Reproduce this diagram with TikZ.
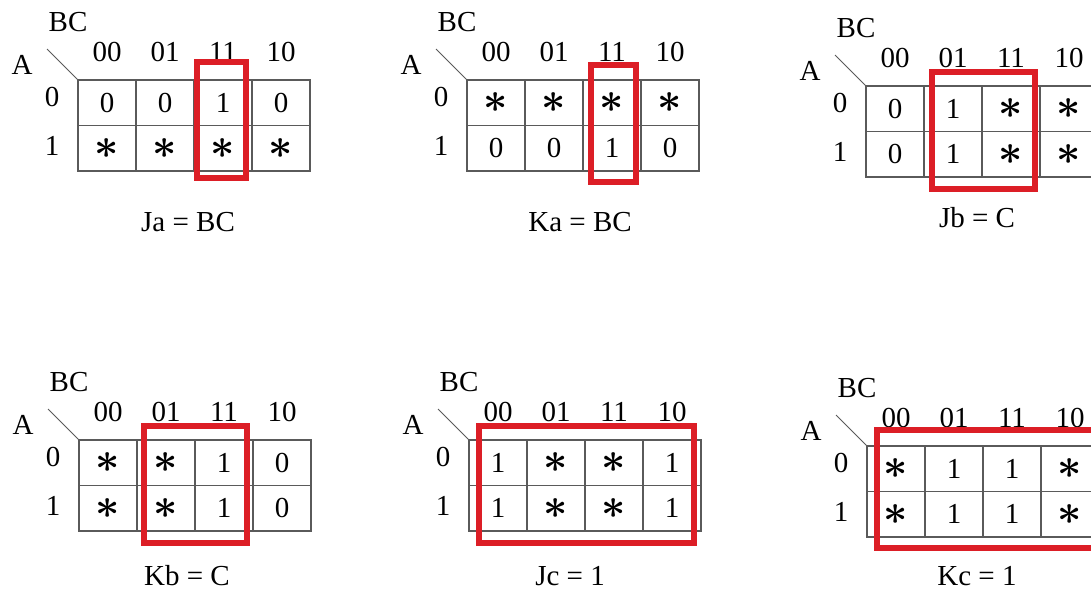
\documentclass[tikz,border=0pt]{standalone}
\usepackage{fontspec}
\usepackage{graphicx}
\setmainfont{Liberation Serif}
\definecolor{kgray}{HTML}{5A5A5A}
\definecolor{kred}{HTML}{DC1E26}
\newcommand{\kfont}{\fontsize{29}{33}\selectfont}
\newcommand{\dc}{\scalebox{1.7}{\boldmath$\ast$}}
\tikzset{
    kcell/.style = {draw=kgray, line width=1.3pt, minimum width=58pt, minimum height=45.5pt, inner sep=0pt, font=\kfont},
    ktext/.style = {inner sep=0pt, font=\kfont},
    kloop/.style = {draw=kred, line width=5.5pt},
}
% #1 name, #2 grid corner, #3 row A=0, #4 row A=1, #5 result, #6 result place, #7 loop
\newcommand{\kmap}[7]{%
\begin{scope}[shift={#2}]
    \foreach \v [count=\i from 0] in {#3}
        \node[kcell] (#1-0-\i) at ({29+58*\i},22.75) {\v};
    \foreach \v [count=\i from 0] in {#4}
        \node[kcell] (#1-1-\i) at ({29+58*\i},68.25) {\v};
    \foreach \h [count=\i from 0] in {00,01,11,10}
        \node[ktext] (#1-h\i) at ({29+58*\i},-28) {\h};
    \node[ktext] (#1-r0) at (-26,17) {0};
    \node[ktext] (#1-r1) at (-26,66) {1};
    \node[ktext] (#1-bc) at (-10,-58) {BC};
    \node[ktext] (#1-a) at (-56,-15) {A};
    \coordinate (#1-corner) at (-31,-31);
    \draw[kgray, line width=1pt] (#1-0-0.north west) -- (#1-corner);
    \node[ktext] (#1-eq) at #6 {#5};
    \draw[kloop] #7;
\end{scope}}

\begin{document}
\begin{tikzpicture}[x=1pt, y=-1pt]
\useasboundingbox (0,0) rectangle (1091,592);
\clip (0,0) rectangle (1091,592);
\fill[white] (0,0) rectangle (1091,592);

\kmap{ja}{(78,80)}{0,0,1,0}{\dc,\dc,\dc,\dc}{Ja = BC}{(110,142)}{(119,-18) rectangle (168,98)}
\kmap{ka}{(467,80)}{\dc,\dc,\dc,\dc}{0,0,1,0}{Ka = BC}{(113,142)}{(124,-15) rectangle (169,102)}
\kmap{jb}{(866,86)}{0,1,\dc,\dc}{0,1,\dc,\dc}{Jb = C}{(111,132)}{(66,-14) rectangle (169,103)}
\kmap{kb}{(79,440)}{\dc,\dc,1,0}{\dc,\dc,1,0}{Kb = C}{(108,136)}{(65,-14) rectangle (168,103)}
\kmap{jc}{(469,440)}{1,\dc,\dc,1}{1,\dc,\dc,1}{Jc = 1}{(101,136)}{(10,-14) rectangle (225,103)}
\kmap{kc}{(867,446)}{\dc,1,1,\dc}{\dc,1,1,\dc}{Kc = 1}{(110,130)}{(10,-16) rectangle (240,102)}
\end{tikzpicture}
\end{document}
